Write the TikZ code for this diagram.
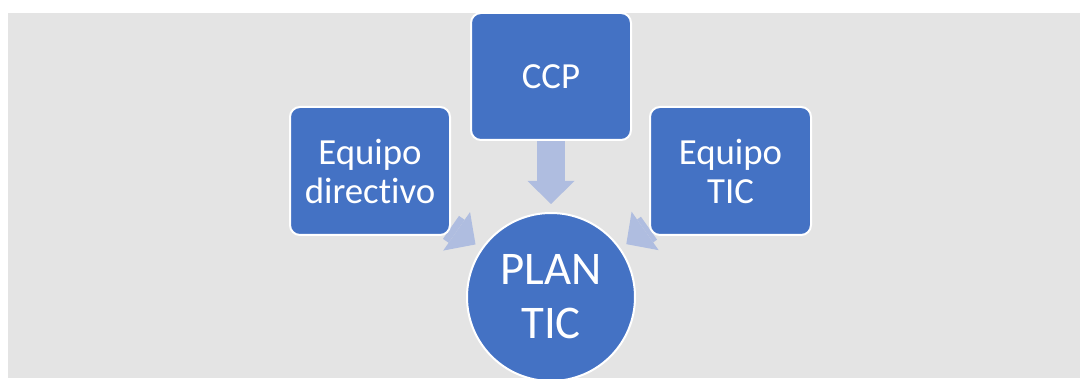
\documentclass[tikz,border=0pt]{standalone}
\usepackage{fontspec}
\setmainfont{Carlito}[RawFeature={-liga;-clig;-calt;-dlig}]
\usetikzlibrary{arrows.meta}
\definecolor{boxblue}{RGB}{68,114,196}
\definecolor{arrowblue}{RGB}{175,189,224}
\definecolor{bggray}{RGB}{228,228,228}
\pgfdeclarelayer{back}
\pgfdeclarelayer{behind}
\pgfsetlayers{back,behind,main}
\begin{document}
\begin{tikzpicture}[x=1pt, y=1pt,
  every node/.style={fill=boxblue, draw=white, line width=2pt, text=white, align=center},
  box/.style={rounded corners=10pt, inner sep=0pt, font=\fontsize{36.8}{39}\selectfont},
  plan/.style={circle, minimum size=168pt, inner sep=0pt, font=\fontsize{46.8}{54}\selectfont},
  bigarrow/.style={draw=arrowblue, line width=28pt, -{Triangle[width=47pt, length=23pt, line width=0pt]}}]
\useasboundingbox (0,0) rectangle (1080,378);
\begin{pgfonlayer}{back}
\fill[bggray] (8,0) rectangle (1080,365);
\end{pgfonlayer}
\node[box, minimum width=160pt, minimum height=127pt] (CCP) at (551,301.5) {CCP};
\node[box, minimum width=160pt, minimum height=128pt] (DIR) at (370,207) {Equipo\\directivo};
\node[box, minimum width=161pt, minimum height=128pt] (TIC) at (730.5,207) {Equipo\\TIC};
\node[plan] (PLAN) at (551,81) {PLAN\\TIC};
\begin{pgfonlayer}{behind}
\draw[bigarrow, shorten >=8pt] (CCP) -- (PLAN);
\draw[bigarrow, shorten >=7pt] (DIR) -- (PLAN);
\draw[bigarrow, shorten >=7pt] (TIC) -- (PLAN);
\end{pgfonlayer}
\end{tikzpicture}
\end{document}
